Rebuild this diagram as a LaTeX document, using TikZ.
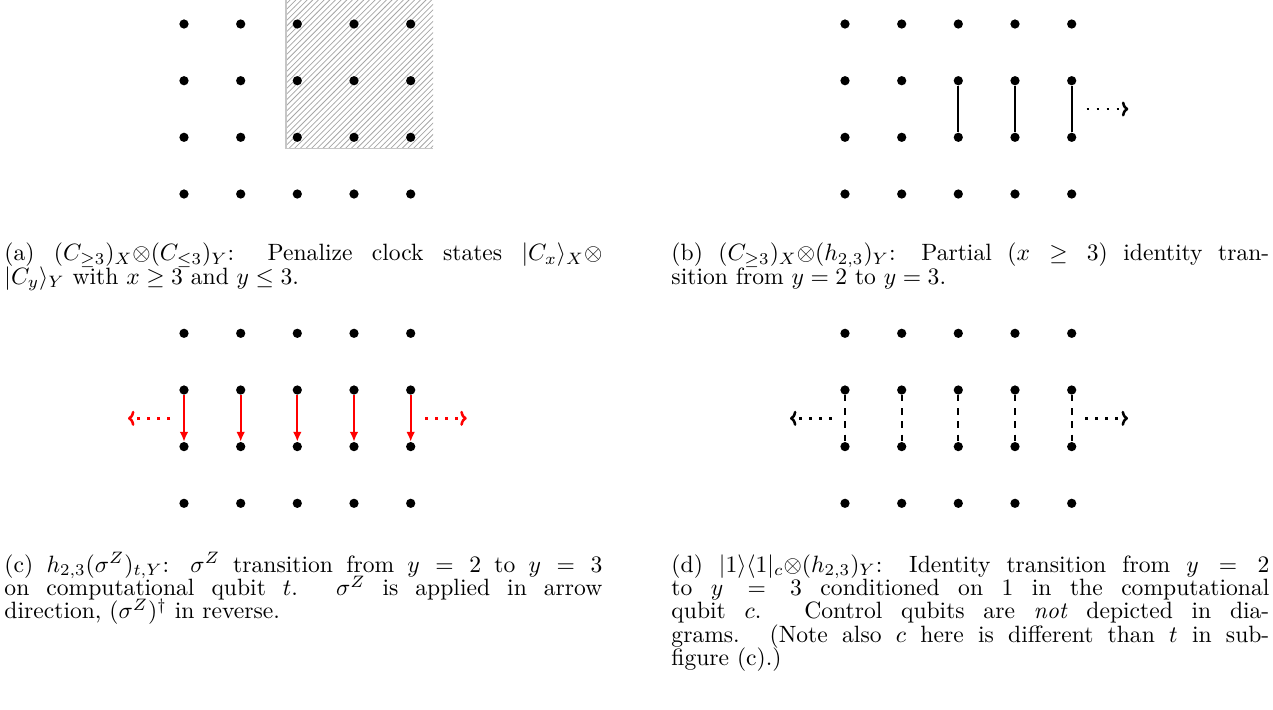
\documentclass[tikz,border=0pt]{standalone}
\usetikzlibrary{arrows.meta,patterns}

\newcommand\capfont{\fontsize{10}{9.88}\selectfont\lineskiplimit-20pt\relax}

\tikzset{
  dot/.style={circle, fill=black, inner sep=0pt, minimum size=4.9pt},
  hop/.style={line width=0.9pt},
  zhop/.style={hop, red, -{Latex[length=5.2pt,width=4.6pt]}},
  idhop/.style={hop, dash pattern=on 3.4pt off 3.6pt},
  more/.style={line width=1.35pt, dash pattern=on 1.4pt off 3.9pt, -{To[length=3.4pt,width=8pt]}},
  caption/.style={anchor=base west, inner sep=0pt, transform shape, scale=1.25,
    text width=253.5pt, align=justify, font=\capfont}
}

\begin{document}
\begin{tikzpicture}[x=0.53pt, y=-0.53pt]
\useasboundingbox (0,0) rectangle (1273,709);

% penalized region in (a)
\fill[pattern=north east lines, pattern color=gray!70] (286,0) rectangle (433,148.3);
\draw[gray!45, line width=0.7pt] (286,0) -- (286,148.3) -- (433,148.3);

% clock grids: column i = x, row j = y
\foreach \i/\x in {1/184,2/240.7,3/297.3,4/354,5/410.7} {
  \foreach \j/\y in {1/24,2/80.7,3/137.3,4/194} {
    \node[dot] (a-\i-\j) at (\x,\y) {};
    \node[dot] (b-\i-\j) at (\x+661,\y) {};
    \node[dot] (c-\i-\j) at (\x,\y+309.3) {};
    \node[dot] (d-\i-\j) at (\x+661,\y+309.3) {};
  }
}

% (b) partial identity transition
\draw[hop] (b-3-2) -- (b-3-3);
\draw[hop] (b-4-2) -- (b-4-3);
\draw[hop] (b-5-2) -- (b-5-3);
\coordinate (b-r1) at (1086.7,109);
\coordinate (b-r2) at (1128.3,109);
\draw[more] (b-r1) -- (b-r2);

% (c) sigma^Z transition
\draw[zhop] (c-1-2) -- (c-1-3);
\draw[zhop] (c-2-2) -- (c-2-3);
\draw[zhop] (c-3-2) -- (c-3-3);
\draw[zhop] (c-4-2) -- (c-4-3);
\draw[zhop] (c-5-2) -- (c-5-3);
\coordinate (c-l1) at (170,418.3);
\coordinate (c-l2) at (128,418.3);
\coordinate (c-r1) at (425,418.3);
\coordinate (c-r2) at (466.7,418.3);
\draw[more, red] (c-l1) -- (c-l2);
\draw[more, red] (c-r1) -- (c-r2);

% (d) controlled identity transition
\draw[idhop] (d-1-2) -- (d-1-3);
\draw[idhop] (d-2-2) -- (d-2-3);
\draw[idhop] (d-3-2) -- (d-3-3);
\draw[idhop] (d-4-2) -- (d-4-3);
\draw[idhop] (d-5-2) -- (d-5-3);
\coordinate (d-l1) at (831.7,418.3);
\coordinate (d-l2) at (790,418.3);
\coordinate (d-r1) at (1085,418.3);
\coordinate (d-r2) at (1128,418.3);
\draw[more] (d-l1) -- (d-l2);
\draw[more] (d-r1) -- (d-r2);

% captions
\coordinate (cap-a-pt) at (4,260.7);
\coordinate (cap-b-pt) at (671,260.7);
\coordinate (cap-c-pt) at (4,572.3);
\coordinate (cap-d-pt) at (671,572.3);
\node[caption] (cap-a) at (cap-a-pt) {(a) $(C_{\geq 3})_X{\otimes}(C_{\leq 3})_Y$: Penalize clock states $|C_x\rangle_X{\otimes}$\linebreak $|C_y\rangle_Y$ with $x\geq 3$ and $y\leq 3$.};
\node[caption] (cap-b) at (cap-b-pt) {(b) $(C_{\geq 3})_X{\otimes}(h_{2,3})_Y$: Partial ($x\geq 3$) identity tran-\linebreak sition from $y=2$ to $y=3$.};
\node[caption] (cap-c) at (cap-c-pt) {(c) $h_{2,3}(\sigma^Z)_{t,Y}$: $\sigma^Z$ transition from $y=2$ to $y=3$\linebreak on computational qubit $t$. $\sigma^Z$ is applied in arrow\linebreak direction, $(\sigma^Z)^\dagger$ in reverse.};
\node[caption] (cap-d) at (cap-d-pt) {(d) $|1\rangle\langle 1|_c{\otimes}(h_{2,3})_Y$: Identity transition from $y=2$\linebreak to $y=3$ conditioned on 1 in the computational\linebreak qubit $c$. Control qubits are \emph{not} depicted in dia-\linebreak grams. (Note also $c$ here is different than $t$ in sub-\linebreak figure (c).)};
\end{tikzpicture}
\end{document}
